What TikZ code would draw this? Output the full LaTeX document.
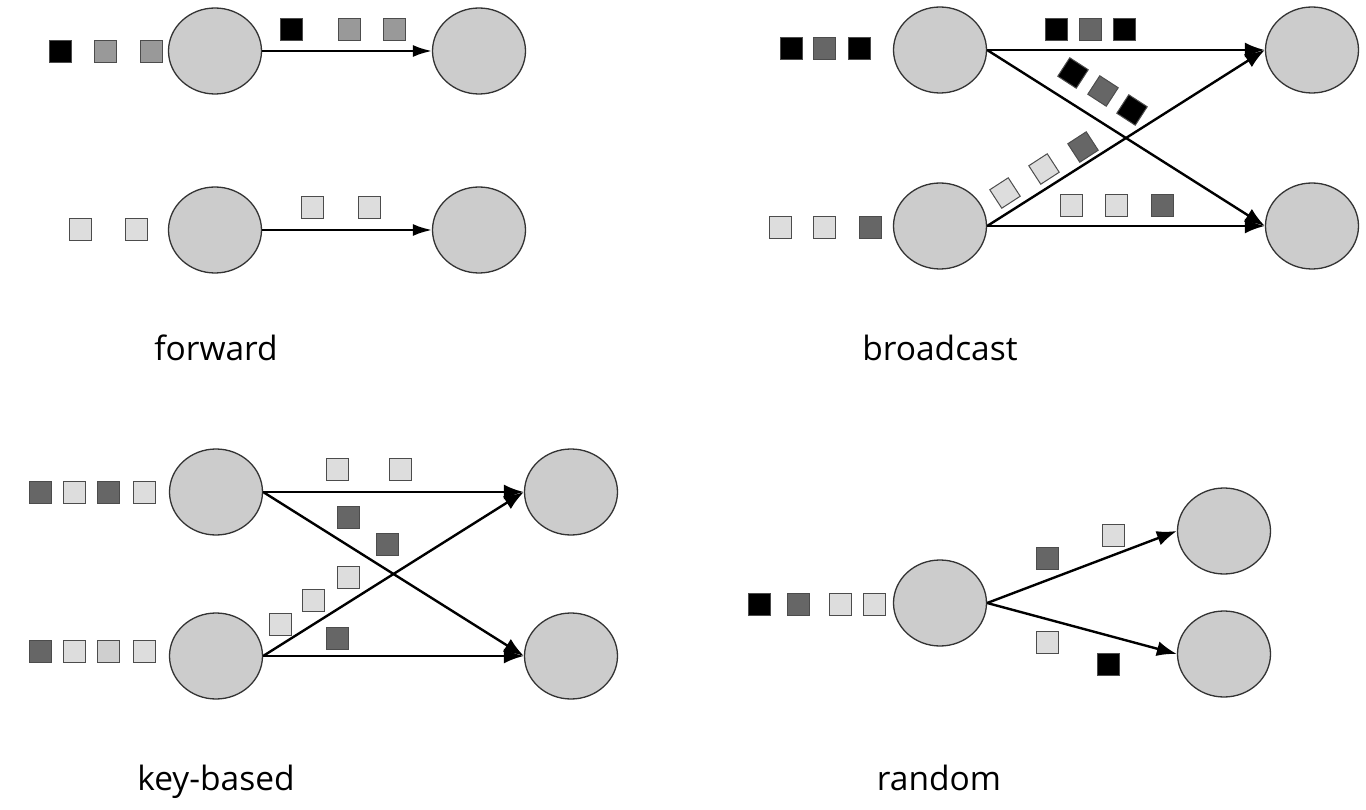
\documentclass[tikz,border=0pt]{standalone}
\usepackage{fontspec}
\setmainfont{Open Sans}
\usetikzlibrary{shapes,arrows.meta}
\definecolor{procfill}{HTML}{CCCCCC}
\definecolor{mblack}{HTML}{000000}
\definecolor{mmid}{HTML}{999999}
\definecolor{mdark}{HTML}{666666}
\definecolor{mlight}{HTML}{DDDDDD}
\definecolor{mpale}{HTML}{CFCFCF}

\begin{document}
\begin{tikzpicture}[x=1pt,y=-1pt]
\tikzstyle{proc}=[draw=black!80,fill=procfill,ellipse,minimum width=93pt,minimum height=86pt,inner sep=0pt,line width=1.3pt];
\tikzstyle{msg}=[draw=black!70,minimum size=22pt,inner sep=0pt,line width=1pt];
\tikzstyle{flow}=[-{Latex[length=20pt,width=15pt]},line width=2.4pt];
\tikzstyle{thinflow}=[-{Latex[length=19pt,width=12pt]},line width=2.2pt];
\tikzstyle{caption}=[anchor=base,inner sep=0pt,font=\fontsize{33.5}{40}\selectfont];

\useasboundingbox (0,0) rectangle (1366,810);

  % forward
  \node[proc] (f1) at (215,51) {};
  \node[proc] (f2) at (479,51) {};
  \node[proc] (f3) at (215,230) {};
  \node[proc] (f4) at (479,230) {};
  \foreach \c/\x/\y [count=\i] in {mblack/60/52, mmid/105/52, mmid/151/52,
      mblack/291/30, mmid/349/30, mmid/394/30,
      mlight/80/230, mlight/136/230, mlight/312/208, mlight/369/208}
    \node[msg,fill=\c] (fm\i) at (\x,\y) {};
  \foreach \from/\to in {f1/f2, f3/f4}
    \draw[thinflow] (\from.east) -- (\to.west);
  \node[caption] (fcap) at (216,360) {forward};

  % broadcast
  \node[proc] (b1) at (940,50) {};
  \node[proc] (b2) at (1312,50) {};
  \node[proc] (b3) at (940,226) {};
  \node[proc] (b4) at (1312,226) {};
  \foreach \c/\x/\y [count=\i] in {mblack/791/49, mdark/824/49, mblack/859/49,
      mblack/1056/30, mdark/1090/30, mblack/1124/30,
      mlight/780/228, mlight/824/228, mdark/870/228,
      mlight/1071/206, mlight/1116/206, mdark/1162/206}
    \node[msg,fill=\c] (bm\i) at (\x,\y) {};
  \foreach \c/\x/\y [count=\i] in {mblack/1073/73, mdark/1103/91, mblack/1132/110}
    \node[msg,fill=\c,rotate=-33] (bd\i) at (\x,\y) {};
  \foreach \c/\x/\y [count=\i] in {mdark/1083/147, mlight/1044/169, mlight/1005/193}
    \node[msg,fill=\c,rotate=33] (bu\i) at (\x,\y) {};
  \foreach \from/\to in {b1/b2, b1/b4, b3/b2, b3/b4}
    \draw[flow] (\from.east) -- (\to.west);
  \node[caption] (bcap) at (940,360) {broadcast};

  % key-based
  \node[proc] (k1) at (216,492) {};
  \node[proc] (k2) at (571,492) {};
  \node[proc] (k3) at (216,656) {};
  \node[proc] (k4) at (571,656) {};
  \foreach \c/\x/\y [count=\i] in {mdark/40/492, mlight/74/492, mdark/108/492, mlight/144/492,
      mdark/40/651, mlight/74/651, mpale/108/651, mlight/144/651,
      mlight/337/469, mlight/400/469,
      mdark/348/517, mdark/387/544,
      mlight/348/577, mlight/313/600, mlight/280/624,
      mdark/337/638}
    \node[msg,fill=\c] (km\i) at (\x,\y) {};
  \foreach \from/\to in {k1/k2, k1/k4, k3/k2, k3/k4}
    \draw[flow] (\from.east) -- (\to.west);
  \node[caption] (kcap) at (216,790) {key-based};

  % random
  \node[proc] (r1) at (940,603) {};
  \node[proc] (r2) at (1224,531) {};
  \node[proc] (r3) at (1224,654) {};
  \foreach \c/\x/\y [count=\i] in {mblack/759/604, mdark/798/604, mlight/840/604, mlight/874/604,
      mdark/1047/558, mlight/1113/535,
      mlight/1047/642, mblack/1108/664}
    \node[msg,fill=\c] (rm\i) at (\x,\y) {};
  \foreach \from/\to in {r1/r2, r1/r3}
    \draw[flow] (\from.east) -- (\to.west);
  \node[caption] (rcap) at (939,790) {random};

\end{tikzpicture}
\end{document}
